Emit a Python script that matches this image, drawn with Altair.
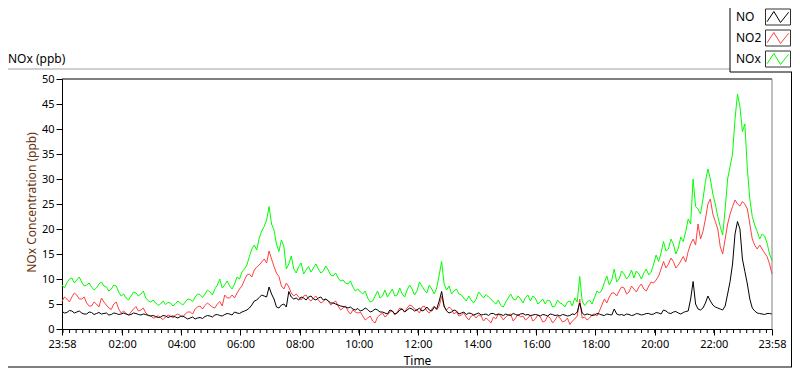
import altair as alt
import pandas as pd

FONT = "Noto Sans"

series_names = ["NO", "NO2", "NOx"]
series_colors = ["#000000", "#ff4040", "#00ff00"]
start_time = "2021-01-01 23:58"
end_time = "2021-01-02 23:58"

# Readings are on a 5-minute grid from 23:58: "_on" lists hold minutes 0,10,20,...

# NO (ppb)
no_on = [
    3.5, 3.3, 3.6, 3.4, 3.2, 3.0, 3.3, 3.1, 3.0, 3.2, 2.9, 3.1,
    3.0, 3.0, 2.9, 3.1, 2.8, 2.9, 2.6, 2.5, 2.4, 2.6, 2.5, 2.4,
    2.5, 2.3, 2.2, 2.0, 2.3, 2.5, 2.6, 2.8, 2.7, 2.9, 3.0, 3.4,
    3.1, 3.6, 4.2, 5.6, 6.3, 6.6, 8.4, 6.0, 4.2, 5.0, 7.5, 6.0,
    5.8, 6.2, 6.4, 6.0, 6.2, 5.8, 5.6, 5.2, 4.8, 4.5, 4.2, 4.0,
    4.1, 3.8, 3.9, 3.6, 3.8, 3.4, 3.0, 3.6, 3.2, 4.0, 3.8, 4.0,
    3.8, 3.6, 4.4, 3.6, 4.0, 7.5, 3.6, 3.4, 3.6, 3.2, 2.9, 3.1,
    3.0, 2.8, 3.0, 3.1, 2.8, 2.9, 3.0, 2.7, 2.9, 3.0, 2.8, 2.7,
    2.9, 2.6, 2.8, 3.0, 2.7, 2.6, 2.8, 2.7, 2.9, 5.2, 2.8, 2.9,
    2.8, 3.0, 2.7, 2.9, 4.0, 2.8, 2.7, 2.9, 2.8, 3.0, 2.9, 3.1,
    3.0, 3.2, 3.8, 3.2, 3.4, 3.2, 3.3, 3.6, 9.5, 4.0, 4.2, 6.6,
    4.8, 4.2, 3.8, 7.0, 13.0, 21.5, 14.0, 9.0, 4.2, 3.2, 3.0, 3.1,
    3.0,
]
no_mid = [
    3.2, 3.7, 3.2, 3.6, 3.0, 3.4, 2.9, 3.3, 3.1, 2.8, 3.2, 2.9,
    3.2, 2.8, 3.2, 2.9, 3.0, 2.7, 2.7, 2.3, 2.7, 2.3, 2.6, 2.2,
    2.6, 2.0, 2.4, 2.2, 2.1, 2.7, 2.4, 2.9, 2.6, 3.1, 2.8, 3.2,
    3.4, 3.8, 4.8, 5.8, 6.8, 6.4, 7.0, 4.4, 4.8, 4.4, 6.4, 6.2,
    6.4, 5.8, 6.6, 5.8, 6.4, 6.0, 5.2, 5.0, 4.6, 4.4, 4.4, 3.8,
    3.6, 4.2, 3.4, 4.0, 3.4, 3.2, 3.8, 3.0, 3.8, 3.4, 4.2, 3.6,
    4.2, 3.8, 3.8, 4.4, 5.6, 4.6, 3.2, 3.8, 3.0, 3.4, 3.2, 2.8,
    3.2, 2.9, 2.7, 3.1, 3.0, 2.7, 2.8, 3.1, 2.7, 3.1, 2.9, 2.8,
    2.8, 2.9, 2.6, 2.9, 2.8, 2.9, 2.6, 3.0, 3.4, 3.2, 3.0, 2.7,
    3.1, 2.8, 3.0, 2.8, 3.0, 2.9, 3.0, 2.7, 3.1, 2.8, 3.1, 2.9,
    3.3, 3.0, 3.6, 3.1, 3.5, 3.0, 3.5, 6.0, 5.0, 3.8, 5.2, 5.6,
    4.4, 4.0, 4.6, 9.5, 19.0, 20.0, 11.5, 6.0, 3.6, 3.1, 2.9, 3.1,
]

# NO2 (ppb)
no2_on = [
    5.5, 6.0, 6.4, 6.8, 6.0, 5.2, 4.6, 5.0, 6.2, 4.8, 3.9, 5.4,
    3.2, 3.1, 3.4, 4.5, 3.8, 3.2, 2.6, 2.3, 2.2, 2.4, 2.6, 2.8,
    2.7, 3.0, 3.4, 4.0, 4.6, 4.7, 4.8, 4.2, 5.5, 6.8, 6.2, 6.2,
    8.0, 9.8, 11.0, 11.8, 12.8, 14.0, 15.6, 12.5, 10.5, 8.0, 8.4, 6.6,
    6.4, 6.6, 6.0, 6.2, 5.8, 5.5, 5.6, 5.2, 4.6, 4.2, 3.6, 3.8,
    3.2, 2.6, 2.2, 1.6, 2.4, 3.2, 2.8, 3.6, 3.4, 4.0, 4.2, 4.6,
    3.8, 4.4, 3.6, 4.0, 3.8, 6.5, 3.8, 4.0, 3.4, 2.8, 2.4, 2.6,
    2.2, 2.6, 2.2, 1.2, 2.0, 2.6, 2.4, 3.0, 2.2, 2.4, 1.8, 2.8,
    2.0, 2.4, 1.6, 2.2, 1.8, 2.2, 1.6, 0.9, 2.0, 6.0, 2.4, 2.2,
    3.0, 3.6, 6.0, 6.4, 7.2, 7.6, 8.2, 7.4, 8.0, 8.4, 8.0, 8.6,
    9.2, 10.6, 13.5, 13.0, 13.5, 12.8, 14.5, 15.5, 18.0, 21.0, 19.5, 25.0,
    23.0, 20.0, 15.0, 21.0, 24.5, 25.0, 25.5, 24.0, 18.0, 16.0, 16.0, 14.5,
    11.0,
]
no2_mid = [
    6.4, 5.4, 7.2, 6.0, 6.4, 4.6, 5.4, 4.4, 5.4, 4.2, 5.0, 4.0,
    3.6, 2.8, 4.0, 3.6, 4.2, 2.8, 2.2, 2.7, 1.9, 2.8, 2.2, 3.0,
    2.4, 3.4, 3.0, 4.4, 4.0, 5.2, 4.4, 5.0, 4.6, 6.2, 6.8, 7.2,
    8.6, 10.8, 10.4, 12.4, 13.4, 13.2, 14.0, 11.2, 8.6, 9.2, 7.2, 7.0,
    5.8, 6.8, 5.6, 6.6, 5.2, 6.0, 4.8, 5.6, 3.8, 4.6, 3.0, 3.4,
    3.4, 1.8, 2.6, 1.2, 2.8, 2.4, 3.4, 2.8, 4.2, 3.4, 4.8, 4.0,
    3.2, 4.6, 3.2, 4.6, 4.6, 4.4, 4.4, 3.0, 2.6, 3.2, 1.8, 2.8,
    2.8, 1.6, 1.8, 2.4, 3.0, 1.8, 2.8, 1.6, 3.0, 2.6, 2.2, 1.6,
    2.8, 1.4, 2.6, 1.2, 2.6, 1.4, 2.2, 1.6, 2.6, 2.2, 1.8, 2.8,
    2.6, 4.8, 5.2, 7.2, 6.6, 8.4, 7.0, 8.6, 7.4, 9.0, 7.6, 9.4,
    9.8, 12.0, 12.2, 14.2, 12.2, 13.6, 13.4, 17.0, 16.8, 18.0, 22.0, 26.0,
    21.5, 16.5, 18.0, 23.0, 25.8, 24.6, 25.0, 21.0, 16.8, 16.8, 15.2, 13.0,
]

# NOx (ppb)
nox_on = [
    8.8, 9.3, 10.2, 9.8, 9.4, 8.8, 8.4, 8.2, 9.4, 8.4, 8.0, 8.6,
    6.6, 6.2, 6.6, 7.2, 7.0, 6.2, 5.4, 5.2, 5.0, 4.9, 5.2, 5.0,
    5.2, 5.4, 5.9, 6.4, 6.9, 7.0, 7.4, 8.0, 10.0, 8.8, 8.6, 9.0,
    10.0, 12.0, 14.5, 16.8, 18.2, 20.5, 24.5, 19.8, 15.5, 16.5, 13.0, 12.0,
    12.5, 11.0, 12.5, 12.2, 12.0, 11.6, 11.8, 10.6, 10.2, 9.8, 9.0, 8.4,
    8.0, 7.0, 6.2, 5.6, 7.6, 6.6, 6.4, 8.0, 6.8, 7.0, 7.8, 8.0,
    7.6, 8.6, 7.2, 8.0, 8.2, 13.5, 7.8, 7.0, 8.0, 6.8, 5.6, 5.8,
    6.0, 6.8, 6.9, 6.0, 5.0, 4.7, 5.4, 7.0, 5.8, 6.0, 6.3, 5.6,
    6.2, 5.4, 5.0, 5.6, 4.6, 5.2, 4.4, 5.6, 6.2, 10.5, 4.7, 5.8,
    6.3, 7.2, 9.3, 8.8, 12.0, 10.0, 11.0, 10.6, 10.2, 11.0, 11.2, 10.8,
    13.0, 13.5, 17.5, 16.0, 17.0, 16.2, 17.5, 22.0, 30.0, 24.0, 26.0, 32.0,
    27.0, 22.5, 18.8, 30.0, 35.0, 47.0, 39.5, 32.0, 22.5, 19.5, 19.0, 17.2,
    13.7,
]
nox_mid = [
    8.2, 10.0, 9.2, 10.4, 8.6, 9.2, 7.8, 9.0, 8.6, 7.6, 8.8, 7.4,
    7.0, 5.8, 7.4, 6.6, 7.6, 5.6, 5.8, 4.7, 5.6, 5.3, 4.6, 5.6,
    4.8, 6.0, 5.5, 7.0, 6.3, 7.8, 6.8, 8.8, 8.2, 9.6, 8.0, 10.4,
    11.4, 12.8, 16.0, 15.8, 19.6, 21.8, 21.0, 17.0, 17.8, 12.0, 14.6, 11.2,
    13.2, 11.8, 11.4, 13.0, 11.2, 12.6, 10.8, 11.2, 9.6, 9.2, 9.6, 7.6,
    7.4, 7.6, 5.4, 6.6, 6.2, 7.8, 7.2, 6.6, 8.2, 6.4, 8.8, 6.8,
    9.4, 7.8, 8.8, 7.0, 10.8, 9.0, 8.6, 7.6, 7.0, 6.2, 6.6, 5.2,
    7.4, 6.2, 6.4, 5.4, 5.8, 4.4, 6.2, 6.0, 6.6, 5.2, 6.8, 6.6,
    5.0, 6.0, 5.8, 4.4, 5.8, 5.0, 5.4, 4.6, 5.4, 5.6, 5.4, 5.0,
    7.6, 7.8, 10.6, 9.8, 9.4, 11.6, 10.0, 11.8, 11.6, 10.0, 12.0, 11.4,
    14.8, 15.2, 15.6, 18.0, 15.0, 18.4, 19.5, 21.0, 24.5, 23.0, 29.5, 30.0,
    25.0, 20.5, 24.0, 32.5, 42.0, 44.5, 41.0, 26.0, 20.8, 18.0, 18.6, 15.0,
]

x_tick_times = [
    "2021-01-01 23:58", "2021-01-02 02:00", "2021-01-02 04:00", "2021-01-02 06:00",
    "2021-01-02 08:00", "2021-01-02 10:00", "2021-01-02 12:00", "2021-01-02 14:00",
    "2021-01-02 16:00", "2021-01-02 18:00", "2021-01-02 20:00", "2021-01-02 22:00",
    "2021-01-02 23:58",
]
y_ticks = [0, 5, 10, 15, 20, 25, 30, 35, 40, 45, 50]


# ---- build tables ----
def weave(on, mid):
    out = []
    for i, v in enumerate(on):
        out.append(v)
        if i < len(mid):
            out.append(mid[i])
    return out


series_values = {
    "NO": weave(no_on, no_mid),
    "NO2": weave(no2_on, no2_mid),
    "NOx": weave(nox_on, nox_mid),
}
times = pd.date_range(start_time, periods=len(series_values["NOx"]), freq="5min")
wide = pd.DataFrame({"time": times, **series_values})
long_df = wide.melt(id_vars="time", var_name="series", value_name="value")

minor_df = pd.DataFrame({"time": pd.date_range("2021-01-02 00:00", end_time, freq="800s")})
one = pd.DataFrame({"a": [0]})


def dt(s):
    t = pd.Timestamp(s)
    return alt.DateTime(year=t.year, month=t.month, date=t.day, hours=t.hour, minutes=t.minute)


W, H = 710, 250

x_scale = alt.Scale(domain=[dt(start_time), dt(end_time)], nice=False)
y_scale = alt.Scale(domain=[0, 50], nice=False)

x_axis = alt.Axis(
    values=[dt(s) for s in x_tick_times], format="%H:%M", labelFlush=False, labelOverlap=False,
    tickSize=6, tickColor="black", domainColor="black", labelPadding=3,
    labelFont=FONT, labelFontSize=11, labelColor="black", grid=False,
    title="Time", titleFont=FONT, titleFontSize=12, titleFontWeight="normal", titleColor="black",
    titleX=W / 2, titleY=31, titleAlign="center", titleBaseline="middle",
)
y_axis = alt.Axis(
    values=y_ticks, tickSize=6, tickColor="black", domainColor="black", labelPadding=2,
    labelFont=FONT, labelFontSize=11, labelColor="black", grid=False, labelFlush=False,
    title="NOx Concentration (ppb)", titleFont=FONT, titleFontSize=12, titleFontWeight="normal",
    titleColor="#6b3510", titleAngle=270, titleX=-31, titleY=123, titleAlign="center",
    titleBaseline="middle",
)

X = alt.X("time:T", scale=x_scale, axis=x_axis)
Y = alt.Y("value:Q", scale=y_scale, axis=y_axis)

layers = []

# series lines (NOx below, NO on top) -- first, so they own the axes
for name, color in reversed(list(zip(series_names, series_colors))):
    layers.append(
        alt.Chart(long_df).transform_filter(alt.datum.series == name)
        .mark_line(color=color, strokeWidth=1, interpolate="linear")
        .encode(x=X, y=Y)
    )

# minor ticks on time axis
layers.append(alt.Chart(minor_df).mark_rule(color="black", strokeWidth=1).encode(
    x=X, y=alt.value(H + 0.5), y2=alt.value(H + 4)))

# outer panel frame
layers.append(alt.Chart(one).mark_rule(color="#a0a0a0").encode(x=alt.value(-62), x2=alt.value(668), y=alt.value(-10)))
layers.append(alt.Chart(one).mark_rule(color="#000000").encode(x=alt.value(729.5), y=alt.value(-7), y2=alt.value(288)))
layers.append(alt.Chart(one).mark_rule(color="#000000").encode(x=alt.value(-62), x2=alt.value(730), y=alt.value(288)))

# plot frame (top black, right grey)
layers.append(alt.Chart(one).mark_rule(color="#000000").encode(x=alt.value(0), x2=alt.value(W), y=alt.value(0)))
layers.append(alt.Chart(one).mark_rule(color="#808080").encode(x=alt.value(W), y=alt.value(0), y2=alt.value(H)))

# chart title
layers.append(alt.Chart(one).mark_text(align="left", baseline="middle", font=FONT, fontSize=12, color="black")
              .encode(x=alt.value(-54), y=alt.value(-20), text=alt.value("NOx (ppb)")))

# legend box
layers.append(alt.Chart(one).mark_rect(fill="white", stroke="black", strokeWidth=1)
              .encode(x=alt.value(668), x2=alt.value(745), y=alt.value(-90), y2=alt.value(-7)))
rect_path = "M-1,-0.64L1,-0.64L1,0.64L-1,0.64Z"
zig_path = "M-0.88,0.38L-0.33,-0.44L0.2,0.44L0.85,-0.38"
legend_y = [-62, -41, -20]
for name, color, ly in zip(series_names, series_colors, legend_y):
    layers.append(alt.Chart(one).mark_text(align="left", baseline="middle", font=FONT, fontSize=12, color="black")
                  .encode(x=alt.value(674), y=alt.value(ly), text=alt.value(name)))
    layers.append(alt.Chart(one).mark_point(shape=rect_path, size=625, filled=False, stroke="#303030",
                                            strokeWidth=1, opacity=1)
                  .encode(x=alt.value(716), y=alt.value(ly)))
    layers.append(alt.Chart(one).mark_point(shape=zig_path, size=625, filled=False, stroke=color,
                                            strokeWidth=1, opacity=1)
                  .encode(x=alt.value(716), y=alt.value(ly)))

chart = alt.layer(*layers).properties(
    width=W, height=H,
    autosize=alt.AutoSizeParams(type="none"),
    padding={"left": 54, "top": 71, "right": 20, "bottom": 40},
    background="white",
).configure_view(stroke=None)

chart.save("out.html", embed_options={"renderer": "svg", "actions": False})
